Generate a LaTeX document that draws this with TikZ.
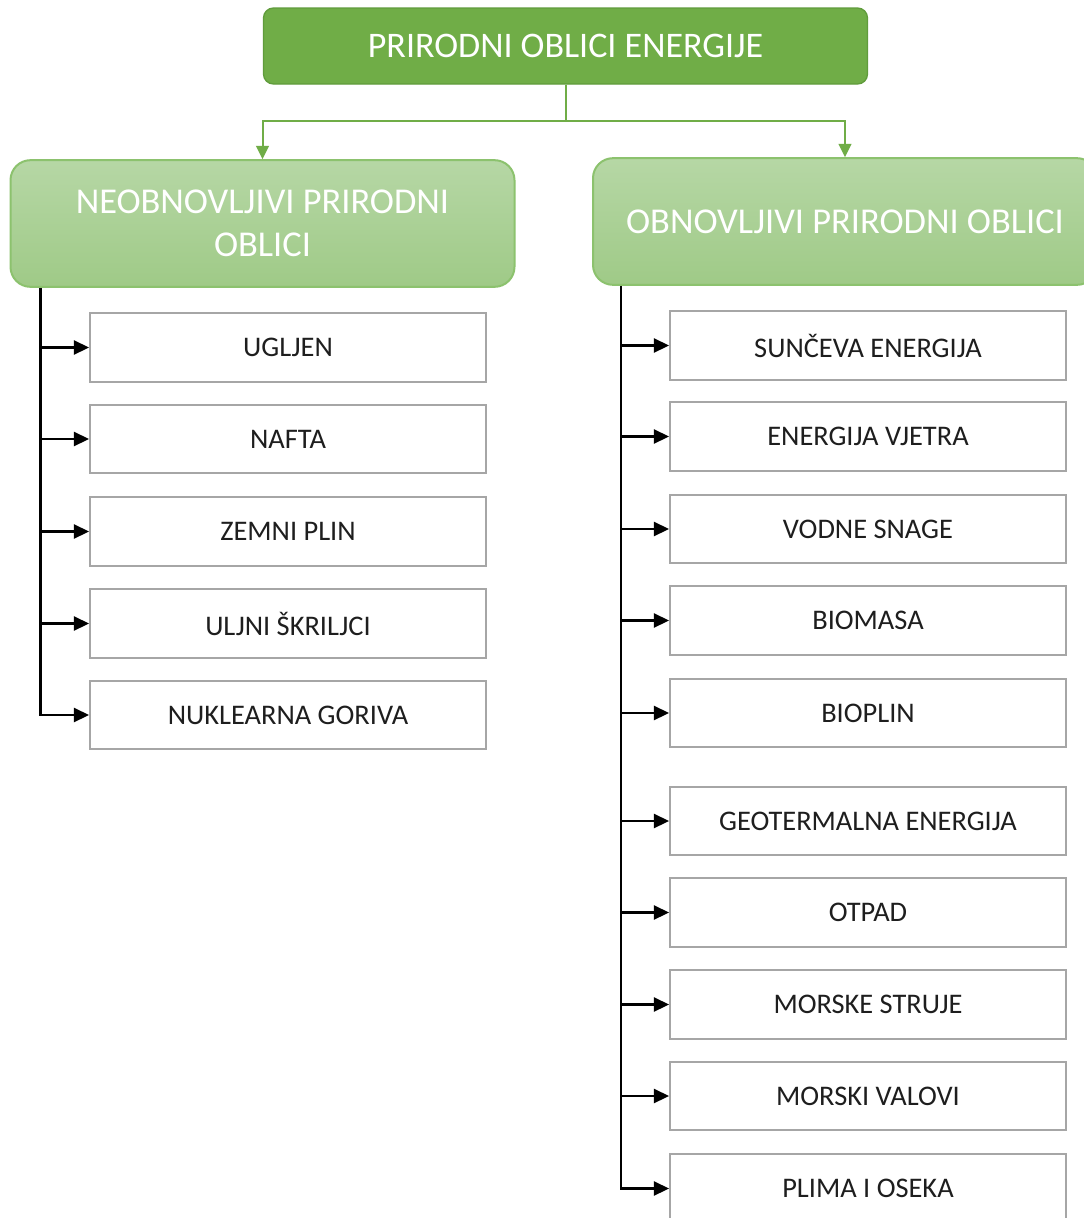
\documentclass[tikz,border=0pt]{standalone}
\usepackage{fontspec}
\setmainfont{Carlito}
\usetikzlibrary{arrows.meta,calc}
\definecolor{gmain}{HTML}{70AD47}
\definecolor{gdark}{HTML}{609C3C}
\definecolor{htop}{HTML}{B6D7A5}
\definecolor{hbot}{HTML}{9FCA87}
\definecolor{hbord}{HTML}{8CC26E}
\definecolor{bord}{HTML}{A6A6A6}
\definecolor{txt}{HTML}{1E1E1E}
\begin{document}
\begin{tikzpicture}[x=0.75pt,y=-0.75pt,
 topbox/.style={draw=gdark, line width=1pt, fill=gmain, rounded corners=7.5pt, minimum width=453pt, minimum height=57pt, inner sep=0pt, text=white, font=\fontsize{27}{32}\selectfont},
 hdr/.style={draw=hbord, line width=1.5pt, top color=htop, bottom color=hbot, rounded corners=15pt, minimum width=378pt, minimum height=95pt, inner sep=0pt, text=white, align=center, font=\fontsize{27.3}{32.5}\selectfont},
 item/.style={draw=bord, line width=1.3pt, fill=white, minimum width=297pt, minimum height=51.5pt, inner sep=0pt, text=txt, font=\fontsize{21.3}{25}\selectfont},
 garr/.style={draw=gmain, line width=1.5pt, -{Triangle[length=10pt,width=9.5pt]}},
 barr/.style={draw=black, line width=1.9pt, -{Triangle[length=11.5pt,width=10.5pt]}},
]
\clip (0,0) rectangle (1084,1218);
\fill[white] (0,0) rectangle (1084,1218);

\node[topbox] (top) at (565.5,46) {PRIRODNI OBLICI ENERGIJE};
\node[hdr] (lh) at (262.5,223.5) {NEOBNOVLJIVI PRIRODNI\\OBLICI};
\node[hdr] (rh) at (845,221.5) {OBNOVLJIVI PRIRODNI OBLICI};

\draw[garr] (top.south) -- ++(0,36) -| (lh.north);
\draw[garr] (top.south) -- ++(0,36) -| (rh.north);

% left column
\node[item] (l1) at (288,347.5) {UGLJEN};
\node[item] (l2) at (288,439) {NAFTA};
\node[item] (l3) at (288,531.5) {ZEMNI PLIN};
\node[item] (l4) at (288,623.5) {ULJNI ŠKRILJCI};
\node[item] (l5) at (288,715) {NUKLEARNA GORIVA};

\coordinate (lt) at ($(lh.south west)+(31,0)$);
\draw[barr] (lt) |- (l5.west);
\foreach \n in {l1,l2,l3,l4} \draw[barr] (lt |- \n.west) -- (\n.west);

% right column
\node[item] (r1) at (868,345.5) {SUNČEVA ENERGIJA};
\node[item] (r2) at (868,436.5) {ENERGIJA VJETRA};
\node[item] (r3) at (868,529) {VODNE SNAGE};
\node[item] (r4) at (868,620.5) {BIOMASA};
\node[item] (r5) at (868,713) {BIOPLIN};
\node[item] (r6) at (868,821) {GEOTERMALNA ENERGIJA};
\node[item] (r7) at (868,912.5) {OTPAD};
\node[item] (r8) at (868,1004.5) {MORSKE STRUJE};
\node[item] (r9) at (868,1096) {MORSKI VALOVI};
\node[item] (r10) at (868,1188.5) {PLIMA I OSEKA};

\coordinate (rt) at ($(rh.south west)+(29,0)$);
\draw[barr] (rt) |- (r10.west);
\foreach \n in {r1,r2,r3,r4,r5,r6,r7,r8,r9} \draw[barr] (rt |- \n.west) -- (\n.west);
\end{tikzpicture}
\end{document}
